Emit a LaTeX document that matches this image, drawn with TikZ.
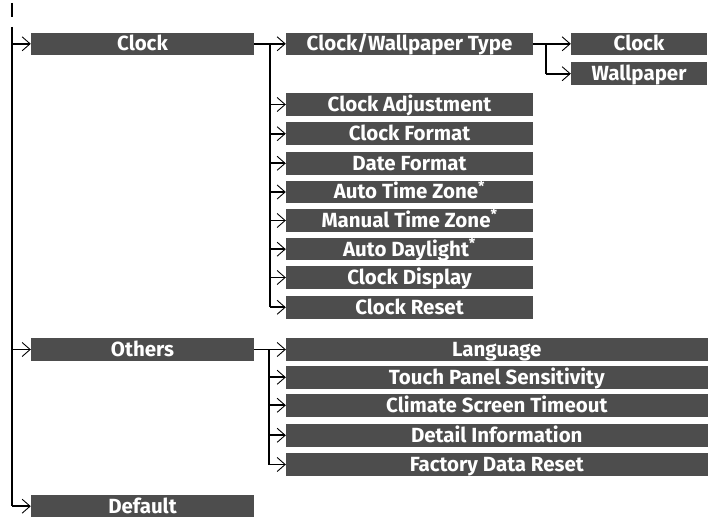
\documentclass[tikz,border=0pt]{standalone}
\usepackage{fontspec}
\setmainfont{Fira Sans}
\usetikzlibrary{arrows.meta}
\definecolor{boxgray}{HTML}{4D4D4D}
\begin{document}
\begin{tikzpicture}[x=1pt,y=-1pt,
  menubox/.style={draw=none,fill=boxgray,text=white,inner sep=0pt,minimum height=22.5pt,
    text height=15pt,text depth=1pt,
    font=\fontsize{20.5}{22}\selectfont\bfseries,anchor=center},
  lvlone/.style={menubox,minimum width=223pt},
  lvltwo/.style={menubox,minimum width=247pt},
  lvlthree/.style={menubox,minimum width=136pt},
  lvlwide/.style={menubox,minimum width=421.5pt},
  conn/.style={line width=1.8pt},
  arr/.style={line width=1.8pt,-{Straight Barb[length=8pt,width=14pt,line width=0.9pt]}}]
\useasboundingbox (0,0) rectangle (708,518);
% top tick
\coordinate (tk0) at (12,3);
\coordinate (tk1) at (12,17);
\draw[line width=1.6pt] (tk0) -- (tk1);
% level one
\node[lvlone] (clock) at (142.5,43.8) {Clock};
\node[lvlone] (others) at (142.5,349.5) {Others};
\node[lvlone] (default) at (142.5,506.2) {Default};
% level two
\node[lvltwo] (cwt) at (409.5,43.8) {Clock/Wallpaper Type};
\node[lvltwo] (cadj) at (409.5,104.5) {Clock Adjustment};
\node[lvltwo] (cfmt) at (409.5,133.7) {Clock Format};
\node[lvltwo] (dfmt) at (409.5,163.3) {Date Format};
\node[lvltwo] (atz) at (409.5,192) {Auto Time Zone\textsuperscript{*}};
\node[lvltwo] (mtz) at (409.5,220.5) {Manual Time Zone\textsuperscript{*}};
\node[lvltwo] (adl) at (409.5,249.2) {Auto Daylight\textsuperscript{*}};
\node[lvltwo] (cdsp) at (409.5,277.5) {Clock Display};
\node[lvltwo] (crst) at (409.5,307.3) {Clock Reset};
% level three
\node[lvlthree] (clk) at (639,43.8) {Clock};
\node[lvlthree] (wall) at (639,73.7) {Wallpaper};
% others children
\node[lvlwide] (lang) at (496.8,349.5) {Language};
\node[lvlwide] (touch) at (496.8,377.3) {Touch Panel Sensitivity};
\node[lvlwide] (clim) at (496.8,405.3) {Climate Screen Timeout};
\node[lvlwide] (detail) at (496.8,435.3) {Detail Information};
\node[lvlwide] (fact) at (496.8,464.5) {Factory Data Reset};
% trunk
\coordinate (tr) at (12,27);
\draw[conn] (tr) -- (tr |- default);
\draw[arr] (tr |- clock) -- (clock.west);
\draw[arr] (tr |- others) -- (others.west);
\draw[arr] (tr |- default) -- (default.west);
% clock branch
\coordinate (cb) at (270,0);
\draw[arr] (clock.east) -- (cwt.west);
\draw[conn] (cb |- clock) -- (cb |- crst);
\foreach \n in {cadj,cfmt,dfmt,atz,mtz,adl,cdsp,crst}
  \draw[arr] (cb |- \n) -- (\n.west);
% clock/wallpaper branch
\coordinate (wb) at (546,0);
\draw[arr] (cwt.east) -- (clk.west);
\draw[conn] (wb |- cwt) -- (wb |- wall);
\draw[arr] (wb |- wall) -- (wall.west);
% others branch
\coordinate (ob) at (269,0);
\draw[arr] (others.east) -- (lang.west);
\draw[conn] (ob |- others) -- (ob |- fact);
\foreach \n in {touch,clim,detail,fact}
  \draw[arr] (ob |- \n) -- (\n.west);
\end{tikzpicture}
\end{document}
